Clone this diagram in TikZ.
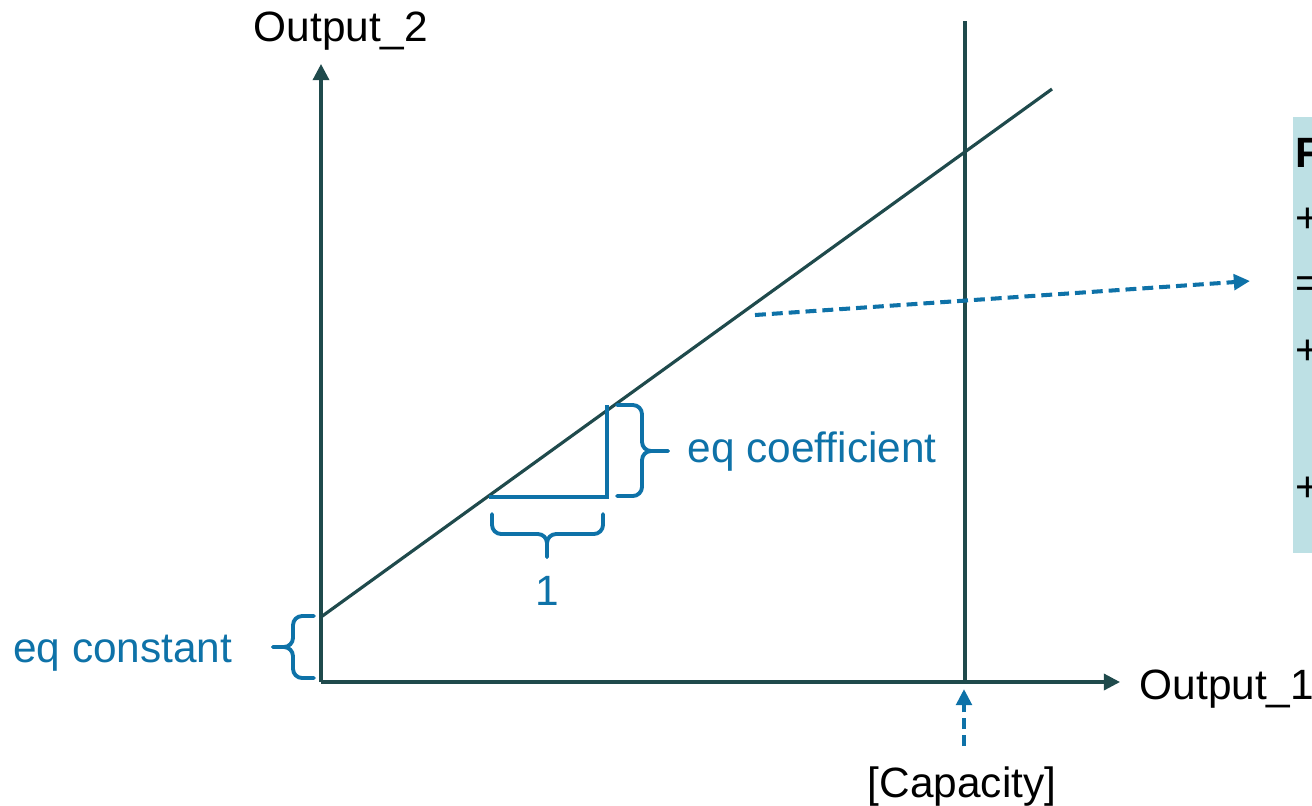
\documentclass[tikz,border=0pt]{standalone}
\usepackage{fontspec}
\setmainfont{Liberation Sans}
\usetikzlibrary{arrows.meta}
\definecolor{axiscol}{HTML}{1F4A4C}
\definecolor{eqblue}{HTML}{0E72A8}
\definecolor{boxfill}{HTML}{BDE0E4}
\tikzset{
  axisline/.style={draw=axiscol, line width=0.9pt},
  axisarrow/.style={axisline, -{Triangle[length=4.6pt,width=4.6pt]}},
  bluedash/.style={draw=eqblue, line width=1.15pt, dash pattern=on 3.1pt off 1.7pt, -{Triangle[length=4.6pt,width=4.4pt]}},
  slopeline/.style={draw=eqblue, line width=1.3pt},
  bracestyle/.style={draw=eqblue, line width=1.1pt, rounded corners=2.6pt, line cap=round},
  bluetext/.style={text=eqblue, inner sep=0pt},
  blacktext/.style={text=black, inner sep=0pt},
}
\begin{document}
\begin{tikzpicture}[x=0.01cm, y=-0.01cm, font=\fontsize{12.05}{14}\selectfont]
\useasboundingbox (0,0) rectangle (1312,805);
% box on the right
\fill[boxfill] (1293,117) rectangle (1312,553);
\node[blacktext, anchor=base west, font=\fontsize{12.05}{14}\selectfont\bfseries] (bF) at (1295,167) {F};
\node[blacktext, anchor=base west] (b1) at (1295,232) {+};
\node[blacktext, anchor=base west] (b2) at (1295,297) {=};
\node[blacktext, anchor=base west] (b3) at (1295,364) {+};
\node[blacktext, anchor=base west] (b4) at (1295,501) {+};
% coordinates
\coordinate (O) at (321,682);
\coordinate (ytip) at (321,64);
\coordinate (xtip) at (1120,682);
\coordinate (captop) at (965,21);
\coordinate (capbot) at (965,682);
\coordinate (l0) at (321,617);
\coordinate (l1) at (1052,89);
\coordinate (t0) at (489,497);
\coordinate (t1) at (607,497);
\coordinate (t2) at (607,405);
\coordinate (dashstart) at (755,315);
\coordinate (dashend) at (1250,281);
\coordinate (capstart) at (964,746);
\coordinate (capend) at (964,689);
% axes
\draw[axisarrow] (O) -- (ytip);
\draw[axisarrow] (O) -- (xtip);
\draw[axisline] (capbot) -- (captop);
\draw[axisline] (l0) -- (l1);
% slope triangle
\draw[slopeline] (t0) -- (t1) -- (t2);
% braces
\coordinate (bcT) at (668,451);
\draw[bracestyle] (617,405) -- (642,405) -- (642,451) -- (bcT);
\draw[bracestyle] (617,496) -- (642,496) -- (642,451) -- (bcT);
\coordinate (bbT) at (547,557);
\draw[bracestyle] (492,514) -- (492,534) -- (547,534) -- (bbT);
\draw[bracestyle] (603,514) -- (603,534) -- (547,534) -- (bbT);
\coordinate (blT) at (273,647);
\draw[bracestyle] (314,616) -- (293,616) -- (293,647) -- (blT);
\draw[bracestyle] (314,678) -- (293,678) -- (293,647) -- (blT);
% dashed arrows
\draw[bluedash] (dashstart) -- (dashend);
\draw[bluedash] (capstart) -- (capend);
% labels
\node[blacktext, anchor=base west] (ylab) at (253,41) {Output\_2};
\node[blacktext, anchor=base west] (xlab) at (1139,699) {Output\_1};
\node[blacktext, anchor=base] (caplab) at (962,797) {[Capacity]};
\node[bluetext, anchor=base west] (coef) at (687,462) {eq coefficient};
\node[bluetext, anchor=base] (one) at (547,605) {1};
\node[bluetext, anchor=base east] (const) at (233,662) {eq constant};
\end{tikzpicture}
\end{document}
